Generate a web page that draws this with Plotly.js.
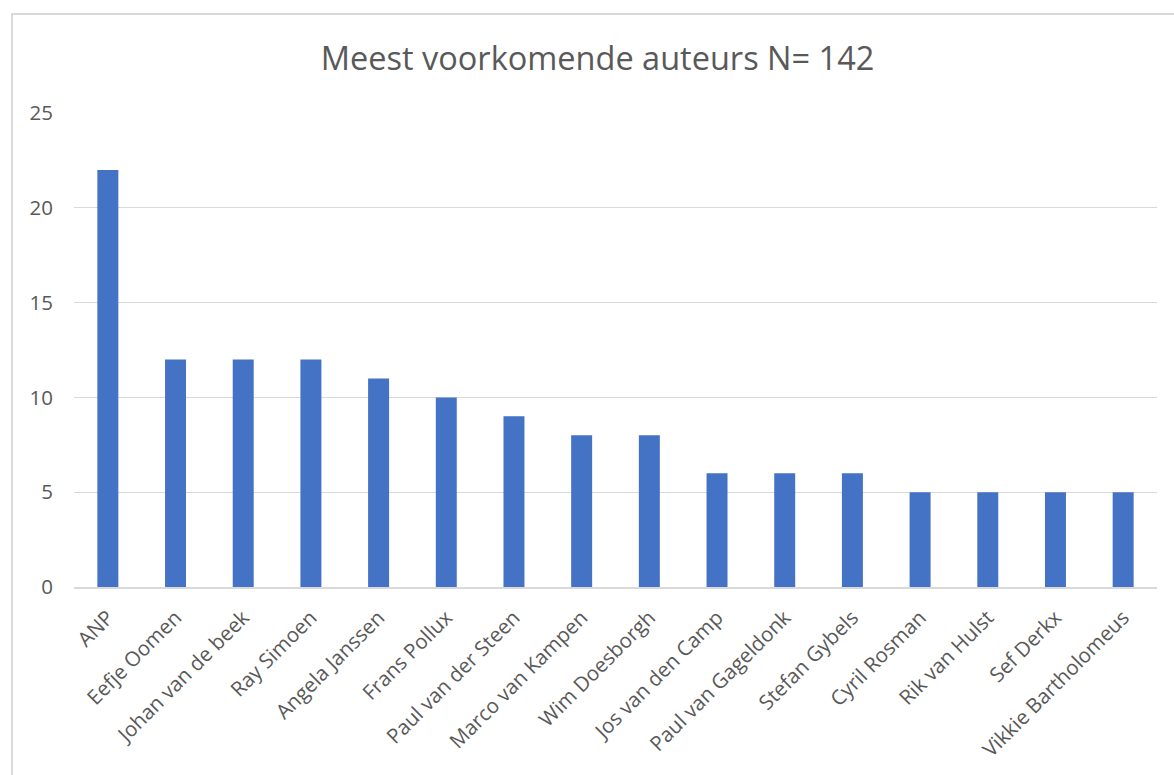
<!DOCTYPE html>
<html>
<head>
<meta charset="utf-8">
<script src="https://cdn.plot.ly/plotly-3.0.1.min.js"></script>
<style>
html,body{margin:0;padding:0;background:#fff;}
#frame{position:absolute;left:11px;top:13px;width:1200px;height:800px;border-left:2px solid #d9d9d9;border-top:2px solid #d9d9d9;box-sizing:border-box;}
#chart{position:absolute;left:0;top:0;width:1174px;height:775px;}
</style>
</head>
<body>
<div id="frame"></div>
<div id="chart"></div>
<script>
const authors = ["ANP","Eefje Oomen","Johan van de beek","Ray Simoen","Angela Janssen","Frans Pollux","Paul van der Steen","Marco van Kampen","Wim Doesborgh","Jos van den Camp","Paul van Gageldonk","Stefan Gybels","Cyril Rosman","Rik van Hulst","Sef Derkx","Vikkie Bartholomeus"];
const counts = [22,12,12,12,11,10,9,8,8,6,6,6,5,5,5,5];
const yTicks = [0,5,10,15,20,25];
const chartTitle = "Meest voorkomende auteurs N= 142";

const font = "'Open Sans', sans-serif";
Plotly.newPlot("chart", [{
  type: "bar",
  x: authors,
  y: counts,
  marker: {color: "#4472c4"},
  hoverinfo: "x+y"
}], {
  width: 1174, height: 775,
  paper_bgcolor: "rgba(0,0,0,0)",
  plot_bgcolor: "rgba(0,0,0,0)",
  margin: {l: 74, r: 17, t: 113, b: 188},
  bargap: 0.69,
  showlegend: false,
  title: {text: chartTitle, x: 0.509, xref: "container", xanchor: "center", y: 0.925, yref: "container", yanchor: "middle",
          font: {family: font, size: 32.5, color: "#595959"}},
  xaxis: {
    type: "category",
    tickangle: -45,
    tickfont: {family: font, size: 20.5, color: "#595959"},
    showgrid: false,
    showline: true, linecolor: "#d9d9d9", linewidth: 1.5,
    ticks: "", ticklabelstandoff: 9, automargin: false
  },
  yaxis: {
    range: [0, 25],
    tickvals: yTicks,
    ticktext: yTicks.map(String),
    tickfont: {family: font, size: 20.5, color: "#595959"},
    showgrid: true, gridcolor: "#d9d9d9", gridwidth: 1,
    zeroline: false, showline: false,
    ticks: "", ticklabelstandoff: 20, automargin: false
  }
}, {displayModeBar: false, staticPlot: true});
</script>
</body>
</html>
